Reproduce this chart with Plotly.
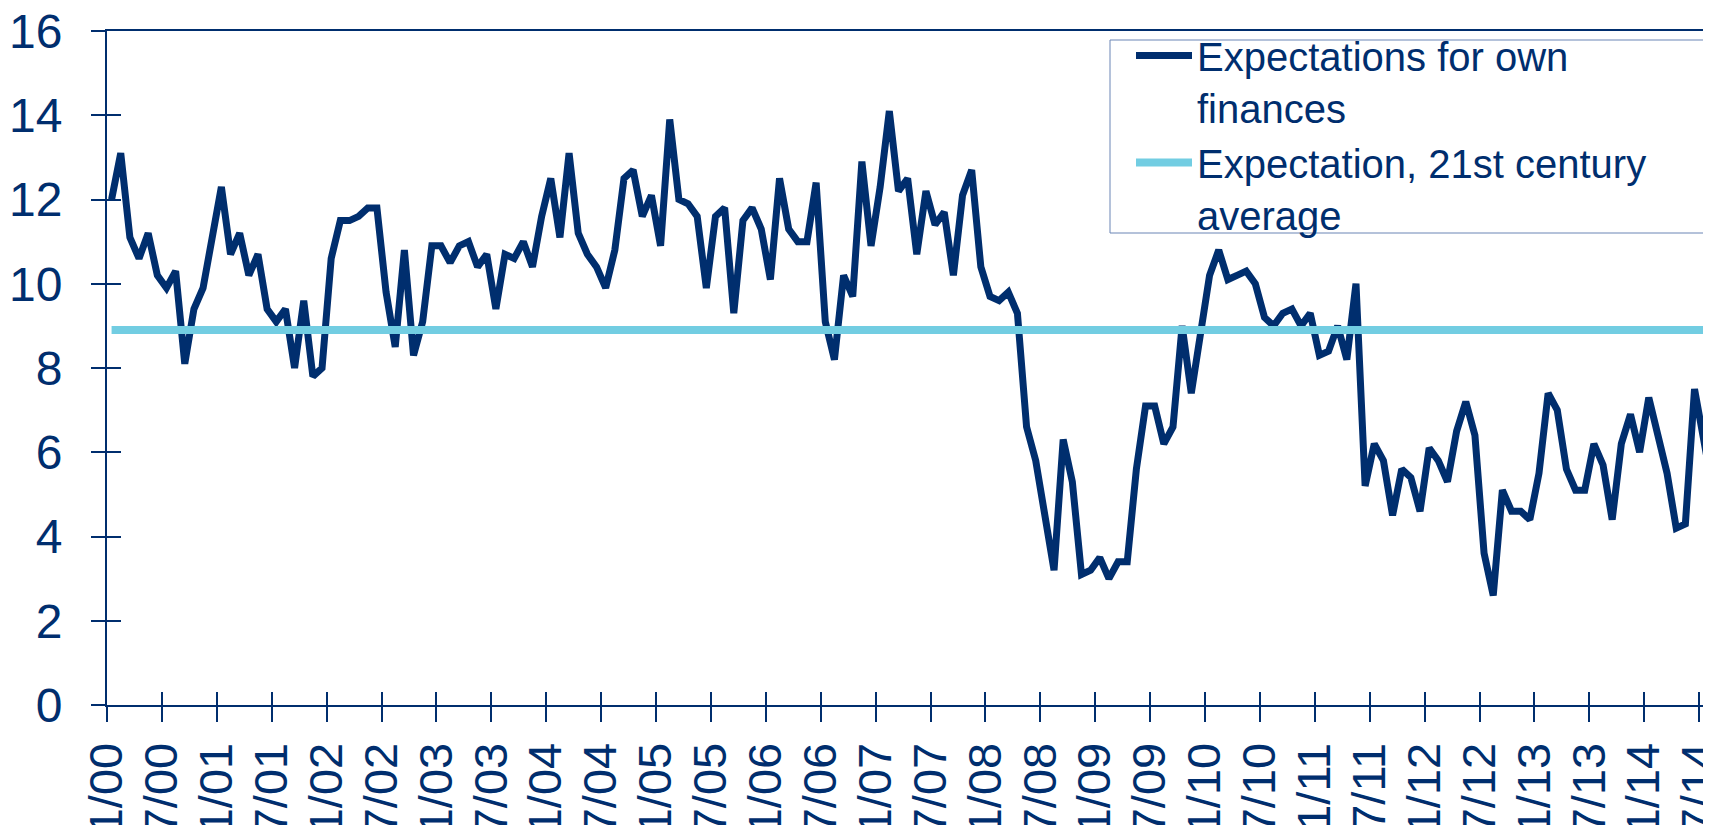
import plotly.graph_objects as go

# Monthly series, Jan 2000 .. Aug 2014
expectations = [
    12.0, 13.1, 11.1, 10.6, 11.2, 10.2, 9.9, 10.3, 8.1, 9.4, 9.9, 11.0,   # 2000
    12.3, 10.7, 11.2, 10.2, 10.7, 9.4, 9.1, 9.4, 8.0, 9.6, 7.8, 8.0,      # 2001
    10.6, 11.5, 11.5, 11.6, 11.8, 11.8, 9.8, 8.5, 10.8, 8.3, 9.1, 10.9,   # 2002
    10.9, 10.5, 10.9, 11.0, 10.4, 10.7, 9.4, 10.7, 10.6, 11.0, 10.4, 11.6,  # 2003
    12.5, 11.1, 13.1, 11.2, 10.7, 10.4, 9.9, 10.8, 12.5, 12.7, 11.6, 12.1,  # 2004
    10.9, 13.9, 12.0, 11.9, 11.6, 9.9, 11.6, 11.8, 9.3, 11.5, 11.8, 11.3,   # 2005
    10.1, 12.5, 11.3, 11.0, 11.0, 12.4, 9.1, 8.2, 10.2, 9.7, 12.9, 10.9,    # 2006
    12.3, 14.1, 12.2, 12.5, 10.7, 12.2, 11.4, 11.7, 10.2, 12.1, 12.7, 10.4, # 2007
    9.7, 9.6, 9.8, 9.3, 6.6, 5.8, 4.5, 3.2, 6.3, 5.3, 3.1, 3.2,             # 2008
    3.5, 3.0, 3.4, 3.4, 5.6, 7.1, 7.1, 6.2, 6.6, 9.0, 7.4, 8.8,             # 2009
    10.2, 10.8, 10.1, 10.2, 10.3, 10.0, 9.2, 9.0, 9.3, 9.4, 9.0, 9.3,       # 2010
    8.3, 8.4, 9.0, 8.2, 10.0, 5.2, 6.2, 5.8, 4.5, 5.6, 5.4, 4.6,            # 2011
    6.1, 5.8, 5.3, 6.5, 7.2, 6.4, 3.6, 2.6, 5.1, 4.6, 4.6, 4.4,             # 2012
    5.5, 7.4, 7.0, 5.6, 5.1, 5.1, 6.2, 5.7, 4.4, 6.2, 6.9, 6.0,             # 2013
    7.3, 6.4, 5.5, 4.2, 4.3, 7.5, 6.3, 5.1,                                 # 2014
]
average_value = 8.9

tick_labels = [
    "1/00", "7/00", "1/01", "7/01", "1/02", "7/02", "1/03", "7/03",
    "1/04", "7/04", "1/05", "7/05", "1/06", "7/06", "1/07", "7/07",
    "1/08", "7/08", "1/09", "7/09", "1/10", "7/10", "1/11", "7/11",
    "1/12", "7/12", "1/13", "7/13", "1/14", "7/14",
]

NAVY = "#002E6E"
LIGHT = "#72CDE2"
FONT = "Arial, Liberation Sans, sans-serif"

# the page body adds an 8px offset, so the figure is 8px smaller than the window
W, H = 1703, 817
ML, MR, MT, MB = 99, 0, 23, 120
PW, PH = W - ML - MR, H - MT - MB

# months plotted at the centre of each monthly interval (date axis, between tick marks)
x_pos = [i + 0.5 for i in range(len(expectations))]
tick_pos = [6 * i for i in range(len(tick_labels))]
x_range = [0, 175.3]

fig = go.Figure()
fig.add_trace(go.Scatter(
    x=x_pos, y=expectations, mode="lines",
    name="Expectations for own<br>finances",
    line=dict(color=NAVY, width=7),
))
fig.add_trace(go.Scatter(
    x=x_pos, y=[average_value] * len(x_pos), mode="lines",
    name="Expectation, 21st century<br>average",
    line=dict(color=LIGHT, width=8),
))
# helper trace so the overlay axes (inner half of the crossing ticks) are drawn
fig.add_trace(go.Scatter(x=[None], y=[None], xaxis="x2", yaxis="y2",
                         showlegend=False, hoverinfo="skip"))

# legend frame (window px 1110..1708 x 40..233)
def px_x(px):
    return (px - 8 - ML) / PW

def px_y(py):
    return 1 - (py - 8 - MT) / PH

fig.add_shape(type="rect", xref="paper", yref="paper",
              x0=px_x(1110), x1=px_x(1708), y0=px_y(233), y1=px_y(40),
              fillcolor="white", line=dict(color="#6A85B5", width=1),
              layer="above")

fig.update_layout(
    width=W, height=H,
    margin=dict(l=ML, r=MR, t=MT, b=MB, pad=0, autoexpand=False),
    paper_bgcolor="white", plot_bgcolor="white",
    font=dict(family=FONT, color=NAVY),
    showlegend=True,
    legend=dict(
        xref="paper", yref="paper",
        x=px_x(1131), y=px_y(23), xanchor="left", yanchor="top",
        bgcolor="rgba(0,0,0,0)", borderwidth=0,
        font=dict(family=FONT, size=40, color=NAVY),
        itemwidth=56, valign="top", tracegroupgap=0,
    ),
    xaxis=dict(
        range=x_range, tickmode="array", tickvals=tick_pos, ticktext=tick_labels,
        tickangle=-90, ticks="outside", ticklen=15, tickwidth=2, tickcolor=NAVY,
        showline=True, linecolor=NAVY, linewidth=2, mirror=True,
        showgrid=False, zeroline=False,
        tickfont=dict(family=FONT, size=47, color=NAVY),
        ticklabelstandoff=2, automargin=False, ticklabeloverflow="allow",
    ),
    yaxis=dict(
        range=[0, 16], tickmode="linear", tick0=0, dtick=2,
        ticks="outside", ticklen=14, tickwidth=2, tickcolor=NAVY,
        showline=True, linecolor=NAVY, linewidth=2,
        showgrid=False, zeroline=False,
        tickfont=dict(family=FONT, size=48, color=NAVY),
        ticklabelstandoff=19, automargin=False, ticklabeloverflow="allow",
    ),
    xaxis2=dict(
        overlaying="x", anchor="y", side="bottom", range=x_range,
        tickmode="array", tickvals=tick_pos, ticks="inside", ticklen=13,
        tickwidth=2, tickcolor=NAVY, showticklabels=False,
        showline=False, showgrid=False, zeroline=False,
    ),
    yaxis2=dict(
        overlaying="y", anchor="x", side="left", range=[0, 16],
        tickmode="linear", tick0=0, dtick=2, ticks="inside", ticklen=14,
        tickwidth=2, tickcolor=NAVY, showticklabels=False,
        showline=False, showgrid=False, zeroline=False,
    ),
)

fig.write_html("out.html")
